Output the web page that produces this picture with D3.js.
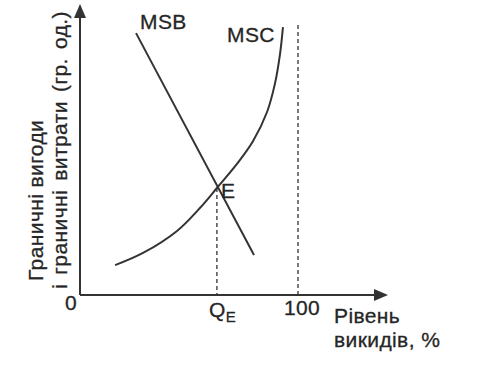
<!DOCTYPE html>
<html>
<head>
<meta charset="utf-8">
<script src="https://cdn.jsdelivr.net/npm/d3@7"></script>
<style>
  body { margin: 0; background: #fff; }
  text { font-family: "Liberation Sans", Arial, sans-serif; fill: #262626; stroke: #262626; stroke-width: 0.3; letter-spacing: 0.4px; }
</style>
</head>
<body>
<div id="chart"></div>
<script>
// MSB - straight falling line, MSC - rising convex curve (percent of emissions vs money units)
const msbX = [25.7, 79.8];
const msbY = [90.3, 13.8];
const mscX = [16.1, 28.9, 44.5, 55.0, 62.8, 72.0, 79.4, 85.8, 89.4, 91.7, 93.1];
const mscY = [10.3, 14.5, 22.1, 30.0, 36.9, 45.2, 53.1, 63.1, 72.8, 82.8, 92.4];
const qe = 62.8, eY = 36.9;
const maxLine = 100, maxLineTop = 93.1;
const xTickLabels = ['0', 'Q', '100'];
const yLabel = ['Граничні вигоди', 'і граничні витрати (гр. од.)'];
const xLabel = ['Рівень', 'викидів, %'];

const width = 483;
const height = 372;

const svg = d3.select('#chart')
  .append('svg')
  .attr('width', width)
  .attr('height', height);

const x = d3.scaleLinear().domain([0, 100]).range([80, 298]);
const y = d3.scaleLinear().domain([0, 100]).range([295, 5]);

const ink = '#333';

// axes with arrows
svg.append('line')
  .attr('x1', x(0)).attr('y1', y(0))
  .attr('x2', 378).attr('y2', y(0))
  .attr('stroke', ink).attr('stroke-width', 2);
svg.append('path')
  .attr('d', `M388,${y(0)} L374,${y(0) - 6} L374,${y(0) + 6} Z`)
  .attr('fill', ink);

svg.append('line')
  .attr('x1', x(0)).attr('y1', y(0))
  .attr('x2', x(0)).attr('y2', 15)
  .attr('stroke', ink).attr('stroke-width', 2);
svg.append('path')
  .attr('d', `M${x(0)},4 L${x(0) - 6},18 L${x(0) + 6},18 Z`)
  .attr('fill', ink);

// dashed guides
svg.append('line')
  .attr('x1', x(qe)).attr('y1', y(eY))
  .attr('x2', x(qe)).attr('y2', y(0))
  .attr('stroke', ink).attr('stroke-width', 1.3)
  .attr('stroke-dasharray', '4,3');
svg.append('line')
  .attr('x1', x(maxLine)).attr('y1', y(maxLineTop))
  .attr('x2', x(maxLine)).attr('y2', y(0))
  .attr('stroke', ink).attr('stroke-width', 1.3)
  .attr('stroke-dasharray', '4,3');

// curves
const line = d3.line()
  .x(d => x(d[0]))
  .y(d => y(d[1]));

svg.append('path')
  .attr('d', line(msbX.map((d, i) => [d, msbY[i]])))
  .attr('fill', 'none')
  .attr('stroke', ink)
  .attr('stroke-width', 2);

svg.append('path')
  .attr('d', line.curve(d3.curveCatmullRom)(mscX.map((d, i) => [d, mscY[i]])))
  .attr('fill', 'none')
  .attr('stroke', ink)
  .attr('stroke-width', 2);

// curve labels
svg.append('text').attr('x', 140).attr('y', 29).style('font-size', '21px').text('MSB');
svg.append('text').attr('x', 227).attr('y', 42).style('font-size', '21px').text('MSC');
svg.append('text').attr('x', x(qe) + 4).attr('y', y(eY) + 10).style('font-size', '21px').text('E');

// tick labels
svg.append('text')
  .attr('x', x(0) - 9).attr('y', 310)
  .attr('text-anchor', 'middle')
  .style('font-size', '21px')
  .text(xTickLabels[0]);

const qLab = svg.append('text')
  .attr('x', x(qe) - 8).attr('y', 317)
  .style('font-size', '21px');
qLab.append('tspan').text(xTickLabels[1]);
qLab.append('tspan').attr('dy', 5).style('font-size', '15px').text('E');

svg.append('text')
  .attr('x', x(maxLine) + 4).attr('y', 315)
  .attr('text-anchor', 'middle')
  .style('font-size', '21px')
  .text(xTickLabels[2]);

// axis titles
svg.append('text').attr('x', 334).attr('y', 323).style('font-size', '21px').text(xLabel[0]);
svg.append('text').attr('x', 334).attr('y', 347).style('font-size', '21px').text(xLabel[1]);

svg.append('text')
  .attr('transform', 'translate(43,281) rotate(-90)')
  .style('font-size', '21px')
  .text(yLabel[0]);
svg.append('text')
  .attr('transform', 'translate(67,289) rotate(-90)')
  .style('font-size', '21px')
  .style('word-spacing', '3px')
  .text(yLabel[1]);
</script>
</body>
</html>
